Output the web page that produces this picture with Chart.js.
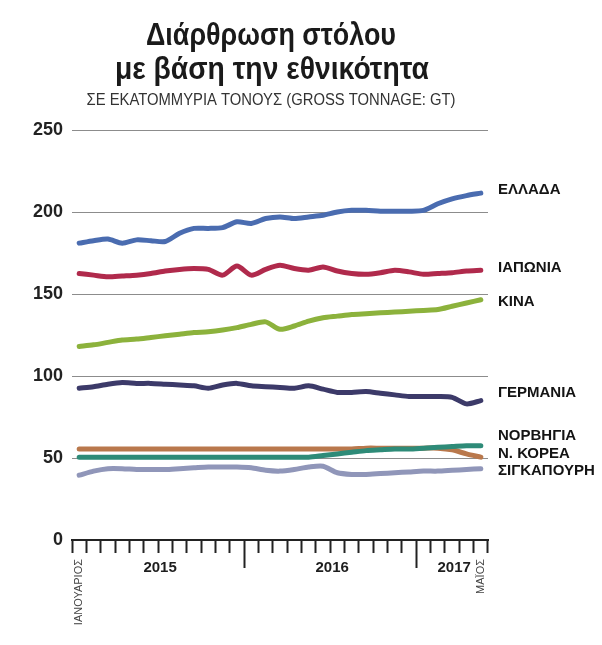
<!DOCTYPE html>
<html lang="el">
<head>
<meta charset="utf-8">
<title>Διάρθρωση στόλου με βάση την εθνικότητα</title>
<script src="https://cdn.jsdelivr.net/npm/chart.js@4.4.1/dist/chart.umd.min.js"></script>
<style>
  html, body { margin: 0; padding: 0; background: #ffffff; }
  #wrap { width: 602px; height: 645px; position: relative; }
</style>
</head>
<body>
<div id="wrap"><canvas id="fleet" width="602" height="645"></canvas></div>
<script>
// Monthly observations, January 2015 to May 2017
const months = [
  '2015-01','2015-02','2015-03','2015-04','2015-05','2015-06','2015-07','2015-08','2015-09','2015-10','2015-11','2015-12',
  '2016-01','2016-02','2016-03','2016-04','2016-05','2016-06','2016-07','2016-08','2016-09','2016-10','2016-11','2016-12',
  '2017-01','2017-02','2017-03','2017-04','2017-05'
];

// Gross tonnage per flag, millions GT
const greece    = [181,182.5,183.5,181,183,182.5,182,187,190,190,190.5,194,193,196,197,196,197,198,200,201,201,200.5,200.5,200.5,201,205,208,210,211.5];
const japan     = [162.5,161.5,160.5,161,161.5,162.5,164,165,165.5,165,161.5,167,161.5,165,167.5,165.5,164.5,166.5,164,162.5,162,163,164.5,163.5,162,162.5,163,164,164.5];
const china     = [118,119,120.5,122,122.5,123.5,124.5,125.5,126.5,127,128,129.5,131.5,133,128.5,130.5,133.5,135.5,136.5,137.5,138,138.5,139,139.5,140,140.5,142.5,144.5,146.5];
const germany   = [92.5,93.5,95,96,95.5,95.5,95,94.5,94,92.5,94.5,95.5,94,93.5,93,92.5,94,92,90,90,90.5,89.5,88.5,87.5,87.5,87.5,87,83,85];
const norway    = [50.5,50.5,50.5,50.5,50.5,50.5,50.5,50.5,50.5,50.5,50.5,50.5,50.5,50.5,50.5,50.5,50.5,51.5,52.5,53.5,54.5,55,55.5,55.5,56,56.5,57,57.5,57.5];
const korea     = [55.5,55.5,55.5,55.5,55.5,55.5,55.5,55.5,55.5,55.5,55.5,55.5,55.5,55.5,55.5,55.5,55.5,55.5,55.5,55.5,56,56,56,56,56,56,55,52.5,50.5];
const singapore = [39.5,42,43.5,43.5,43,43,43,43.5,44,44.5,44.5,44.5,44,42.5,42,43,44.5,45,41,40,40,40.5,41,41.5,42,42,42.5,43,43.5];

// Axis text
const seriesNames = ['ΕΛΛΑΔΑ','ΙΑΠΩΝΙΑ','ΚΙΝΑ','ΓΕΡΜΑΝΙΑ','ΝΟΡΒΗΓΙΑ','Ν. ΚΟΡΕΑ','ΣΙΓΚΑΠΟΥΡΗ'];
const yearLabels = ['2015','2016','2017'];
const firstMonthLabel = 'ΙΑΝΟΥΑΡΙΟΣ';
const lastMonthLabel = 'ΜΑΪΟΣ';
const yTicks = [0,50,100,150,200,250];
const titleLines = ['Διάρθρωση στόλου','με βάση την εθνικότητα'];
const subtitleText = 'ΣΕ ΕΚΑΤΟΜΜΥΡΙΑ ΤΟΝΟΥΣ (GROSS TONNAGE: GT)';

const seriesValues = [greece, japan, china, germany, norway, korea, singapore];
const seriesColors = ['#4a6cb0','#b02a4c','#8cb23c','#3c3a69','#2e8b78','#b9784c','#9096b9'];
// vertical nudge (px) of each end label relative to its line end
const labelNudge = [-3,-2,2,-8,-10,-3,2];

const SANS = '"Liberation Sans","DejaVu Sans",sans-serif';

const datasets = seriesNames.map((name, i) => ({
  label: name,
  data: seriesValues[i],
  borderColor: seriesColors[i],
  backgroundColor: seriesColors[i],
  borderWidth: 5,
  borderCapStyle: 'round',
  borderJoinStyle: 'round',
  pointRadius: 0,
  pointHoverRadius: 0,
  tension: 0.25,
  fill: false,
  order: i === 4 ? 0 : i + 1
}));

// draw text horizontally condensed so that it spans the given width
function fillCondensed(ctx, text, cx, cy, width) {
  const w = ctx.measureText(text).width;
  const k = Math.min(1, width / w);
  ctx.save();
  ctx.translate(cx, cy);
  ctx.scale(k, 1);
  ctx.fillText(text, 0, 0);
  ctx.restore();
}

// Headline, year captions and line-end labels
const annotations = {
  id: 'annotations',
  afterDraw(chart) {
    const { ctx } = chart;
    const x = chart.scales.x;
    const y = chart.scales.y;
    ctx.save();

    // headline
    ctx.fillStyle = '#1a1a1a';
    ctx.textAlign = 'center';
    ctx.textBaseline = 'middle';
    ctx.font = 'bold 31px ' + SANS;
    fillCondensed(ctx, titleLines[0], 271, 36, 250);
    fillCondensed(ctx, titleLines[1], 272, 70, 314);
    ctx.font = '16px ' + SANS;
    ctx.fillStyle = '#333333';
    fillCondensed(ctx, subtitleText, 271, 101, 369);

    // year captions centred on each year's span of months
    ctx.font = 'bold 15px ' + SANS;
    ctx.fillStyle = '#1e1e1e';
    yearLabels.forEach((yr) => {
      const idx = months.map((m, j) => m.startsWith(yr) ? j : -1).filter(j => j >= 0);
      const cx = (x.getPixelForValue(idx[0]) + x.getPixelForValue(idx[idx.length - 1])) / 2;
      fillCondensed(ctx, yr, cx + 2, 568, 36);
    });

    // first and last month, set vertically
    ctx.font = '11px ' + SANS;
    ctx.fillStyle = '#444444';
    ctx.textAlign = 'right';
    [[0, firstMonthLabel], [months.length - 1, lastMonthLabel]].forEach(([idx, txt]) => {
      ctx.save();
      ctx.translate(x.getPixelForValue(idx), 559);
      ctx.rotate(-Math.PI / 2);
      ctx.fillText(txt, 0, 0);
      ctx.restore();
    });

    // series names at the right end of each line
    ctx.textAlign = 'left';
    ctx.font = 'bold 15px ' + SANS;
    ctx.fillStyle = '#141414';
    seriesNames.forEach((name, i) => {
      const vals = seriesValues[i];
      const py = y.getPixelForValue(vals[vals.length - 1]) + labelNudge[i];
      fillCondensed(ctx, name, x.right + 10, py, 1000);
    });
    ctx.restore();
  }
};

new Chart(document.getElementById('fleet'), {
  type: 'line',
  data: { labels: months, datasets },
  plugins: [annotations],
  options: {
    responsive: false,
    animation: false,
    events: [],
    layout: { padding: { top: 130, right: 114, bottom: 0, left: 0 } },
    plugins: { legend: { display: false }, tooltip: { enabled: false }, title: { display: false } },
    scales: {
      x: {
        type: 'category',
        offset: true,
        afterFit(scale) { scale.height = 105; },
        border: { display: true, color: '#222222', width: 2 },
        grid: {
          offset: true,
          drawOnChartArea: false,
          drawTicks: true,
          tickLength: 28,
          tickWidth: 2,
          tickColor: '#222222',
          // full-length marks at each new year, short marks for months
          tickBorderDash: (c) => (c.index === 12 || c.index === 24) ? [] : [12, 100]
        },
        ticks: { display: false }
      },
      y: {
        min: 0,
        max: 250,
        afterBuildTicks(scale) { scale.ticks = yTicks.map(v => ({ value: v })); },
        afterFit(scale) { scale.width = 72; },
        border: { display: false },
        grid: {
          drawTicks: false,
          lineWidth: 1,
          color: (c) => c.tick && c.tick.value === 0 ? 'rgba(0,0,0,0)' : '#8c8c8c',
          borderDash: [1, 2]
        },
        ticks: {
          padding: 9,
          color: '#222222',
          font: { family: SANS, size: 18, weight: 'bold' }
        }
      }
    }
  }
});
</script>
</body>
</html>
